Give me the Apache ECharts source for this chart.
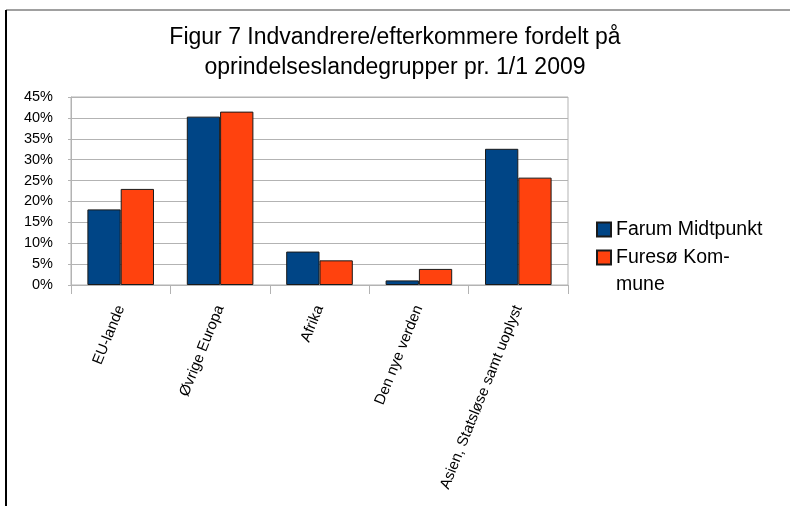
<!DOCTYPE html>
<html>
<head>
<meta charset="utf-8">
<script src="https://cdn.jsdelivr.net/npm/echarts@6/dist/echarts.min.js"></script>
<style>html,body{margin:0;padding:0;background:#fff}#c{width:790px;height:506px}</style>
</head>
<body>
<div id="c"></div>
<script>
const titleText = 'Figur 7 Indvandrere/efterkommere fordelt på\noprindelseslandegrupper pr. 1/1 2009';
const categories = ['EU-lande', 'Øvrige Europa', 'Afrika', 'Den nye verden', 'Asien, Statsløse samt uoplyst'];
const seriesNames = ['Farum Midtpunkt', 'Furesø Kommune'];
const farumValues = [18.1, 40.3, 8.0, 1.1, 32.6];
const furesoValues = [23.0, 41.5, 5.9, 3.85, 25.7];
const yTicks = [0, 5, 10, 15, 20, 25, 30, 35, 40, 45];

const FONT = '"Liberation Sans", Arial, sans-serif';
const chart = echarts.init(document.getElementById('c'), null, {renderer: 'canvas'});
chart.setOption({
  animation: false,
  backgroundColor: '#fff',
  title: {
    text: titleText,
    left: 'center',
    top: 18,
    textStyle: {fontFamily: FONT, fontSize: 23, fontWeight: 'normal', color: '#000', lineHeight: 30}
  },
  graphic: [
    {type: 'line', shape: {x1: 6, y1: 10, x2: 790, y2: 10}, style: {stroke: '#808080', lineWidth: 1.5}},
    {type: 'line', shape: {x1: 6, y1: 10, x2: 6, y2: 506}, style: {stroke: '#000', lineWidth: 2}}
  ],
  legend: {
    orient: 'vertical',
    left: 596,
    top: 216,
    padding: 0,
    itemWidth: 14,
    itemHeight: 14,
    itemGap: -26,
    icon: 'rect',
    textStyle: {fontFamily: FONT, fontSize: 19.5, color: '#000', lineHeight: 27},
    formatter: function (name) { return name === seriesNames[1] ? ' \nFuresø Kom-\nmune' : name; },
    data: [seriesNames[0], seriesNames[1]]
  },
  grid: {
    left: 71, top: 97, width: 497, height: 188,
    show: true, borderColor: '#b3b3b3', borderWidth: 1, containLabel: false
  },
  xAxis: {
    type: 'category',
    data: categories,
    axisLine: {lineStyle: {color: '#b3b3b3', width: 1}},
    axisTick: {show: true, alignWithLabel: false, length: 9, lineStyle: {color: '#b3b3b3'}},
    axisLabel: {rotate: 68, margin: 21, fontFamily: FONT, fontSize: 15, color: '#000', interval: 0},
    splitLine: {show: false}
  },
  yAxis: {
    type: 'value',
    min: 0, max: 45, interval: 5,
    axisLine: {show: true, lineStyle: {color: '#b3b3b3'}},
    axisTick: {show: true, length: 3, lineStyle: {color: '#b3b3b3'}},
    axisLabel: {formatter: function (v) { return yTicks.indexOf(v) >= 0 ? v + '%' : ''; }, fontFamily: FONT, fontSize: 14.5, color: '#000', margin: 18},
    splitLine: {show: true, lineStyle: {color: '#b3b3b3', width: 1}}
  },
  series: [
    {
      name: seriesNames[0], type: 'bar', data: farumValues,
      barGap: '0%', barCategoryGap: '33%',
      itemStyle: {color: '#004586', borderColor: '#1a1a1a', borderWidth: 1}
    },
    {
      name: seriesNames[1], type: 'bar', data: furesoValues,
      itemStyle: {color: '#ff420e', borderColor: '#1a1a1a', borderWidth: 1}
    }
  ]
});
</script>
</body>
</html>
